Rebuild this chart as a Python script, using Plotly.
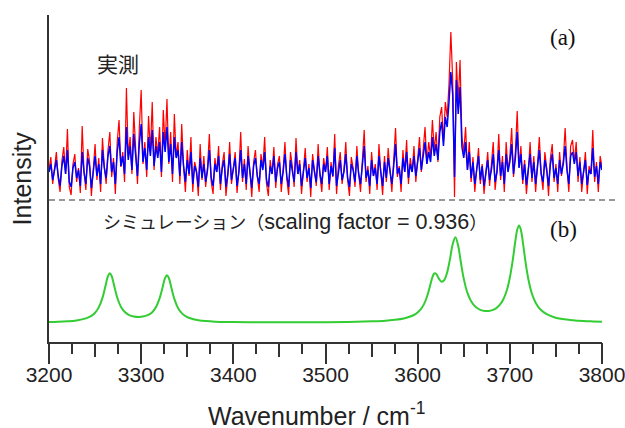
import plotly.graph_objects as go

# ---------------- data ----------------
# measured spectrum, sampled every 2 cm-1 from 3200 to 3800 (arbitrary intensity units)
wavenumber_obs = list(range(3200, 3801, 2))

obs_red = [
    172, 185, 158, 176, 190, 163, 150, 181, 195, 168, 213, 155, 147, 178, 188, 160, 174, 149, 216, 170, 152, 193, 181, 146, 175,
    198, 162, 184, 150, 204, 176, 158, 192, 210, 165, 184, 148, 200, 222, 175, 190, 160, 254, 185, 205, 168, 230, 190, 158, 214,
    252, 178, 200, 165, 226, 190, 240, 172, 205, 188, 215, 165, 232, 195, 243, 178, 210, 160, 228, 185, 200, 158, 218, 176, 150,
    192, 166, 205, 150, 180, 172, 146, 198, 162, 186, 155, 175, 208, 160, 148, 184, 170, 196, 152, 178, 190, 146, 166, 200, 158,
    176, 190, 149, 170, 210, 160, 183, 152, 196, 172, 145, 180, 192, 165, 150, 188, 174, 205, 158, 146, 182, 168, 195, 154, 178,
    186, 150, 172, 200, 163, 147, 190, 176, 155, 204, 168, 182, 148, 170, 194, 160, 178, 145, 188, 172, 156, 198, 166, 150, 184,
    170, 195, 152, 180, 165, 208, 148, 176, 190, 158, 172, 200, 162, 146, 185, 174, 155, 196, 168, 150, 182, 212, 160, 176, 148,
    190, 166, 178, 152, 198, 170, 147, 186, 160, 194, 175, 150, 182, 214, 165, 176, 150, 192, 170, 202, 158, 184, 170, 196, 160,
    188, 205, 170, 196, 215, 178, 200, 185, 222, 192, 210, 180, 225, 235, 200, 240, 225, 258, 310, 262, 145, 280, 240, 282, 205,
    190, 215, 172, 200, 160, 185, 150, 175, 194, 158, 178, 148, 168, 190, 156, 176, 200, 152, 170, 208, 162, 186, 150, 200, 172,
    185, 214, 165, 190, 231, 175, 196, 158, 182, 148, 170, 200, 160, 186, 150, 176, 205, 168, 152, 190, 174, 146, 184, 198, 160,
    178, 150, 190, 166, 182, 214, 175, 150, 196, 202, 180, 200, 160, 185, 150, 172, 190, 148, 176, 168, 212, 160, 180, 150, 186,
    175,
]

obs_blue = [
    170, 178, 162, 174, 182, 166, 156, 176, 186, 168, 192, 160, 155, 174, 180, 164, 172, 156, 190, 170, 158, 184, 176, 154, 172,
    186, 166, 178, 158, 192, 174, 164, 186, 196, 170, 180, 158, 190, 205, 176, 186, 168, 215, 182, 196, 172, 208, 186, 166, 198,
    218, 180, 194, 172, 205, 186, 212, 176, 196, 184, 200, 170, 210, 190, 215, 180, 198, 168, 205, 184, 192, 166, 200, 176, 160,
    182, 168, 190, 158, 176, 170, 155, 184, 164, 178, 160, 172, 192, 164, 156, 178, 170, 186, 158, 174, 182, 155, 168, 188, 162,
    174, 184, 156, 170, 192, 164, 178, 158, 186, 170, 154, 176, 184, 166, 158, 182, 172, 190, 162, 155, 176, 168, 186, 160, 174,
    180, 158, 170, 188, 166, 155, 182, 172, 160, 190, 168, 178, 156, 170, 184, 164, 174, 154, 182, 170, 160, 186, 168, 158, 178,
    170, 186, 158, 176, 166, 194, 156, 172, 182, 162, 170, 188, 164, 155, 178, 172, 160, 186, 168, 158, 176, 196, 164, 172, 156,
    182, 166, 174, 158, 186, 170, 156, 180, 164, 184, 172, 158, 176, 198, 168, 174, 158, 184, 170, 190, 164, 178, 170, 186, 166,
    182, 194, 172, 186, 200, 178, 190, 180, 205, 186, 198, 182, 210, 220, 196, 225, 215, 240, 270, 248, 165, 262, 228, 255, 195,
    184, 200, 172, 190, 164, 180, 158, 172, 186, 162, 176, 156, 168, 182, 162, 172, 188, 160, 170, 192, 166, 180, 158, 188, 170,
    180, 198, 168, 184, 210, 174, 188, 162, 178, 157, 170, 188, 164, 180, 158, 174, 192, 168, 160, 182, 172, 156, 178, 188, 164,
    174, 158, 182, 168, 178, 196, 172, 158, 186, 190, 178, 190, 166, 180, 158, 170, 182, 157, 172, 168, 194, 165, 176, 158, 180,
    172,
]

# simulated spectrum (scaling factor = 0.936)
wavenumber_sim = [
    3200, 3210, 3220, 3230, 3240, 3245, 3250, 3254, 3258, 3261, 3264, 3266, 3268, 3271, 3274, 3278,
    3282, 3287, 3292, 3297, 3302, 3307, 3312, 3316, 3320, 3323, 3326, 3328, 3330, 3333, 3336, 3340,
    3344, 3349, 3355, 3362, 3370, 3380, 3400, 3425, 3450, 3475, 3500, 3525, 3550, 3565, 3575, 3585,
    3592, 3598, 3603, 3607, 3610, 3613, 3616, 3618, 3620, 3623, 3626, 3629, 3632, 3635, 3638, 3641,
    3644, 3647, 3650, 3654, 3658, 3663, 3668, 3673, 3677, 3681, 3685, 3689, 3693, 3697, 3700, 3703,
    3706, 3708, 3710, 3712, 3714, 3717, 3720, 3724, 3728, 3733, 3740, 3748, 3757, 3768, 3780, 3790,
    3800,
]
sim_intensity = [
    19.9, 20.2, 20.7, 21.6, 23.6, 25.6, 29.3, 34.6, 44.1, 54.9, 65.8, 68.8, 65.9, 55.2, 44.5, 35.3,
    30.2, 26.9, 25.5, 25.0, 25.4, 26.8, 29.8, 34.7, 43.6, 53.8, 64.1, 66.8, 64.0, 53.5, 43.1, 34.0,
    28.9, 25.4, 23.2, 21.8, 20.9, 20.3, 20.0, 19.8, 19.7, 19.7, 19.8, 20.1, 20.7, 21.3, 22.2, 23.6,
    25.5, 28.2, 32.3, 38.1, 45.0, 54.6, 64.8, 68.5, 68.2, 63.3, 60.3, 62.1, 69.6, 82.6, 97.7, 104.7,
    96.0, 79.0, 63.4, 49.1, 40.8, 35.0, 32.2, 31.0, 31.1, 31.9, 33.7, 37.1, 42.8, 52.5, 64.2, 80.8,
    101.0, 112.2, 116.6, 112.1, 100.7, 80.2, 63.3, 48.2, 39.3, 32.7, 27.8, 24.8, 23.0, 21.8, 21.0, 20.6,
    20.3,
]

baseline_level = 142          # zero level of the measured spectrum (dashed line)
x_range = [3200, 3800]
y_range = [0, 327]
x_major_ticks = [3200, 3300, 3400, 3500, 3600, 3700, 3800]

# ---------------- figure ----------------
fig = go.Figure()

fig.add_trace(go.Scatter(x=wavenumber_obs, y=obs_red, mode="lines",
                         line=dict(color="#ff0000", width=1.2), showlegend=False))
fig.add_trace(go.Scatter(x=wavenumber_obs, y=obs_blue, mode="lines",
                         line=dict(color="#0000ff", width=1.5), showlegend=False))
fig.add_trace(go.Scatter(x=wavenumber_sim, y=sim_intensity, mode="lines", line_shape="spline",
                         line=dict(color="#33cc33", width=2), showlegend=False))
# invisible trace to activate the secondary (50 cm-1 tick) axis
fig.add_trace(go.Scatter(x=[x_range[0]], y=[y_range[0]], xaxis="x2", mode="markers",
                         marker=dict(opacity=0), showlegend=False, hoverinfo="skip"))

# dashed zero line of the measured spectrum
fig.add_shape(type="line", xref="paper", x0=0, x1=1.025, yref="y",
              y0=baseline_level, y1=baseline_level,
              line=dict(color="#777777", width=1.5, dash="6px,4px"))

axis_col = "#333333"
fig.update_layout(
    width=625, height=428,
    margin=dict(l=49, r=23, t=15, b=86, autoexpand=False),
    paper_bgcolor="white", plot_bgcolor="white",
    font=dict(family="Liberation Sans, Arial, sans-serif", color="#222222"),
    xaxis=dict(range=x_range, showgrid=False, zeroline=False, automargin=False,
               showline=True, linecolor=axis_col, linewidth=1.5,
               ticks="outside", ticklen=20, tickwidth=1.5, tickcolor=axis_col,
               tickvals=x_major_ticks, ticktext=[str(v) for v in x_major_ticks],
               tickfont=dict(size=21, color="#222222"), ticklabeloverflow="allow",
               ticklabelstandoff=-7,
               minor=dict(ticks="outside", dtick=25, tick0=3200, ticklen=10,
                          tickwidth=1.5, tickcolor=axis_col)),
    xaxis2=dict(range=x_range, overlaying="x", anchor="y", side="bottom", automargin=False,
                showgrid=False, zeroline=False, showline=False,
                ticks="outside", dtick=50, tick0=3200, ticklen=14, tickwidth=1.5,
                tickcolor=axis_col, showticklabels=False),
    yaxis=dict(range=y_range, showgrid=False, zeroline=False, automargin=False,
               showline=True, linecolor=axis_col, linewidth=1.5,
               showticklabels=False, ticks=""),
)

cjk_style = "font-family:'Noto Sans CJK JP';font-size:18px"
fig.add_annotation(xref="paper", yref="paper", x=0.483, y=-0.22,
                   text="Wavenumber / cm<sup>-1</sup>", showarrow=False,
                   font=dict(size=25, color="#222222"), xanchor="center", yanchor="middle")
fig.add_annotation(xref="paper", yref="paper", x=-0.049, y=0.50,
                   text="Intensity", textangle=-90, showarrow=False,
                   font=dict(size=25, color="#222222"), xanchor="center", yanchor="middle")
fig.add_annotation(xref="paper", yref="paper", x=0.125, y=0.853,
                   text="実測", showarrow=False,
                   font=dict(size=21, family="Noto Sans CJK JP", color="#222222"),
                   xanchor="center", yanchor="middle")
fig.add_annotation(xref="paper", yref="paper", x=0.094, y=0.37,
                   text=(f"<span style=\"{cjk_style}\">シミュレーション（</span>"
                         "scaling factor = 0.936"
                         f"<span style=\"{cjk_style}\">）</span>"),
                   showarrow=False, font=dict(size=21.5, color="#222222"),
                   xanchor="left", yanchor="middle")
fig.add_annotation(xref="paper", yref="paper", x=0.93, y=0.93,
                   text="(a)", showarrow=False,
                   font=dict(size=23, family="Liberation Serif, Times New Roman, serif", color="#111111"),
                   xanchor="center", yanchor="middle")
fig.add_annotation(xref="paper", yref="paper", x=0.93, y=0.343,
                   text="(b)", showarrow=False,
                   font=dict(size=23, family="Liberation Serif, Times New Roman, serif", color="#111111"),
                   xanchor="center", yanchor="middle")

# remove the default page margin so the 625x428 figure fills the window exactly
fig.write_html("out.html", config={"displayModeBar": False},
               post_script="document.body.style.margin='0px';document.body.style.overflow='hidden';")
